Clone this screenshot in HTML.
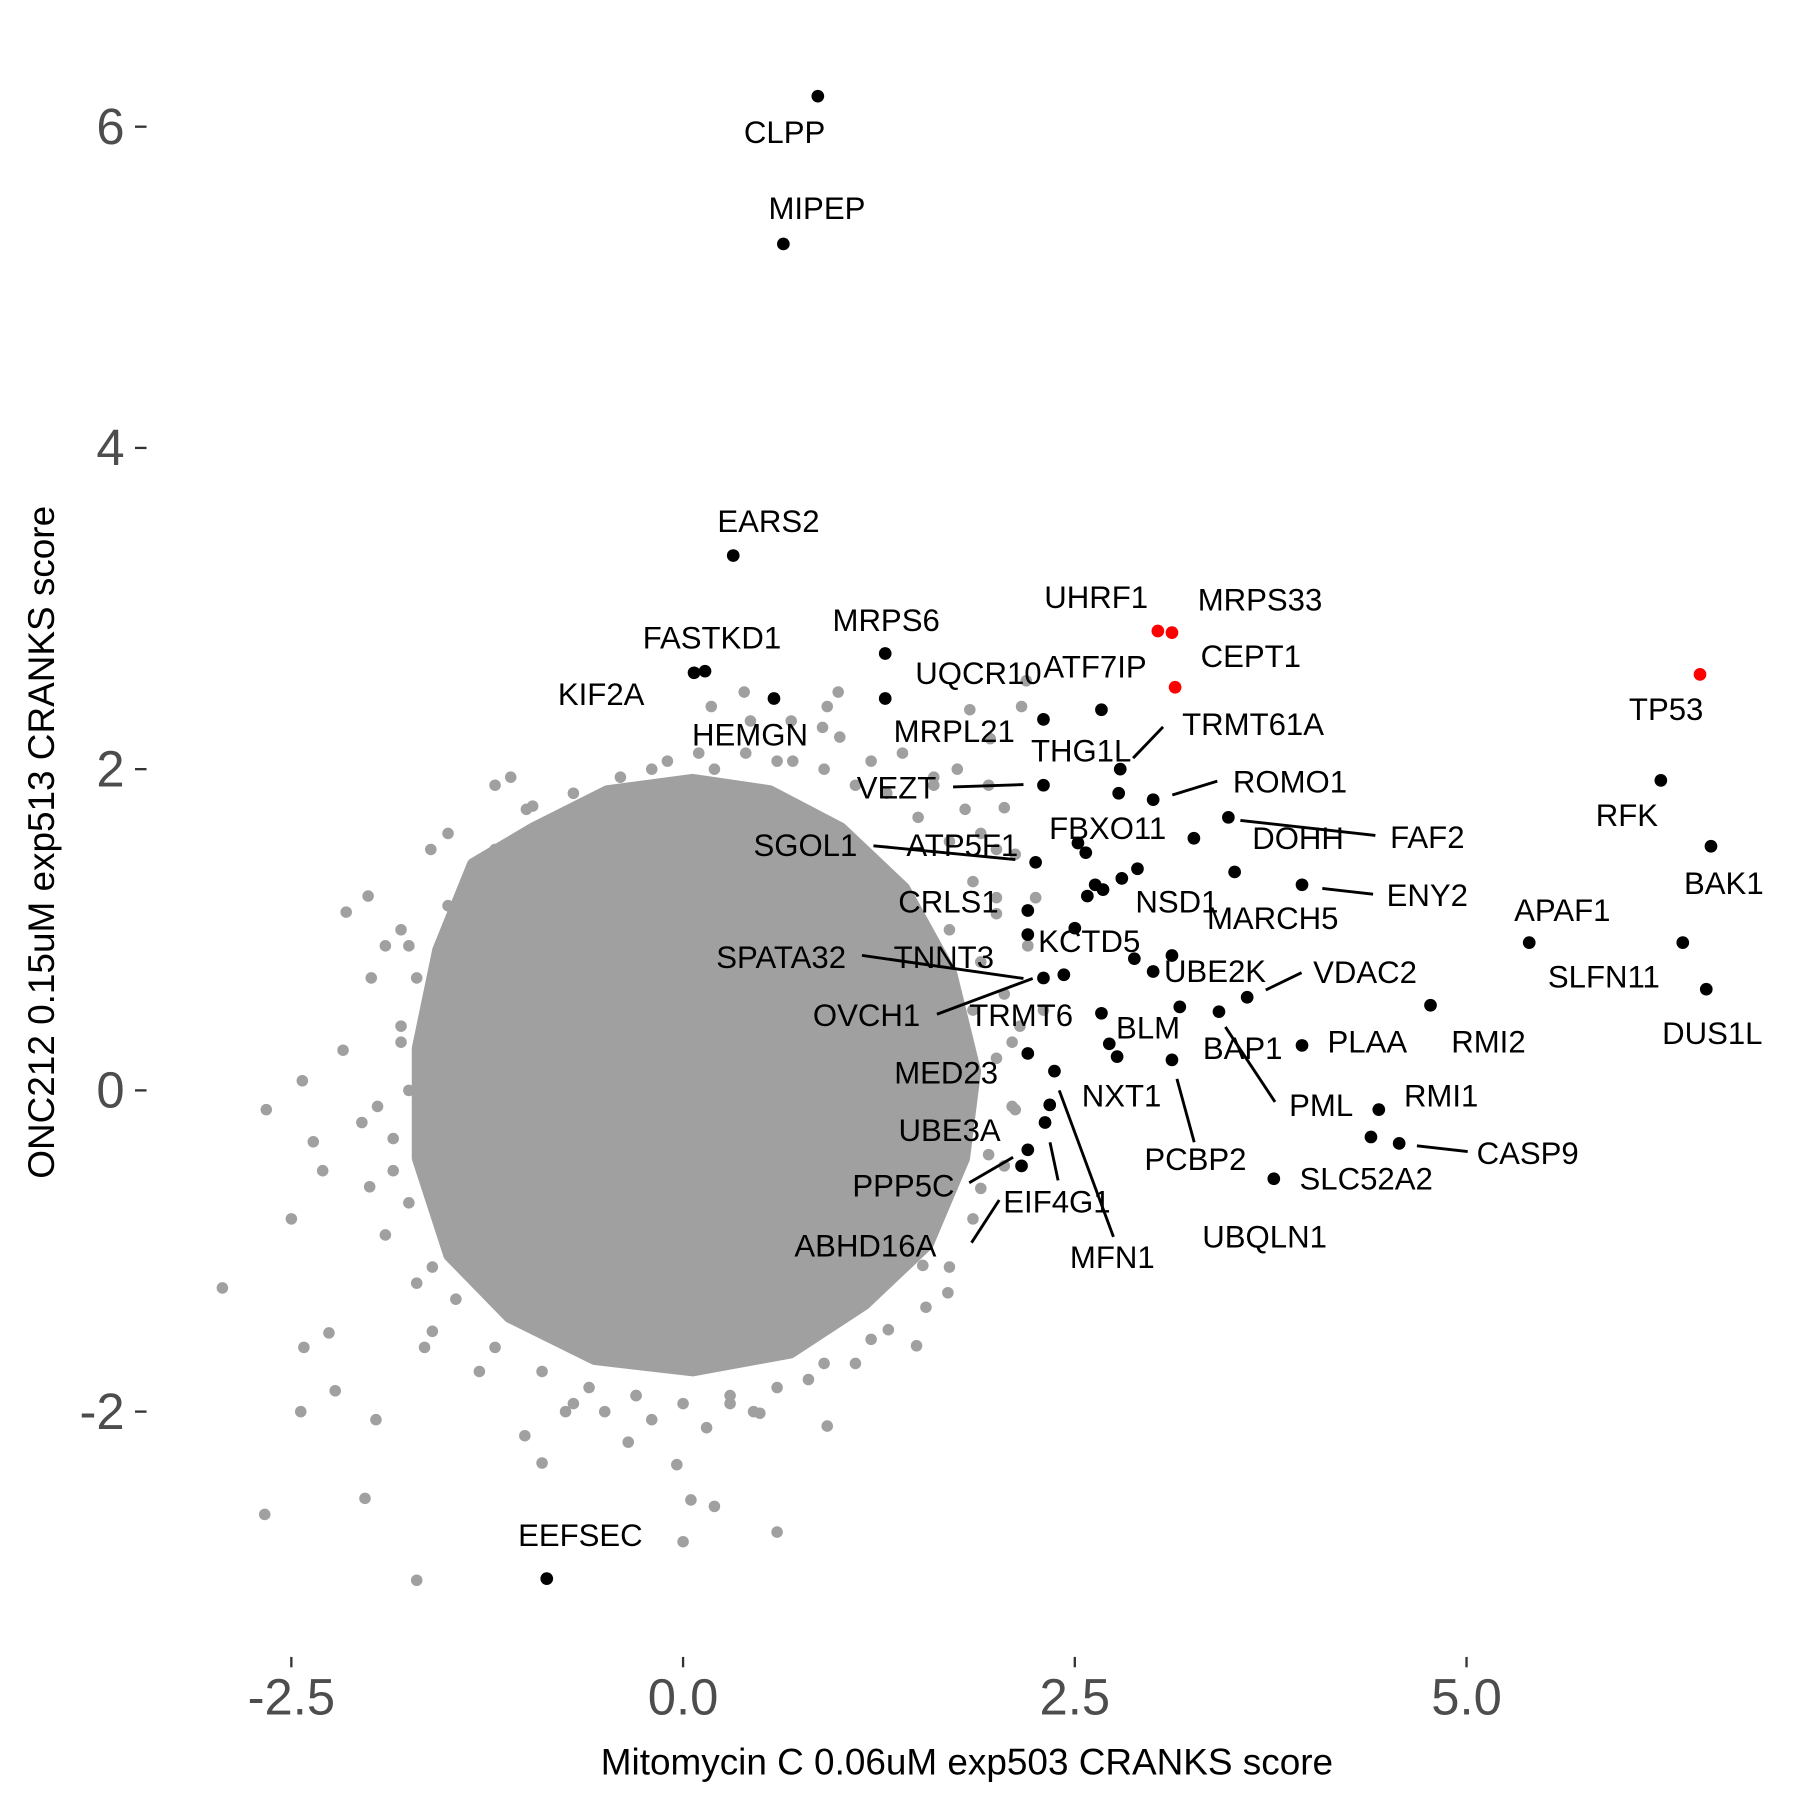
<!DOCTYPE html>
<html><head><meta charset="utf-8"><style>
html,body{margin:0;padding:0;background:#fff}
svg{display:block;font-family:"Liberation Sans",Arial,sans-serif}
</style></head><body>
<svg id="chart" width="1800" height="1800" viewBox="0 0 1560 1560" xmlns="http://www.w3.org/2000/svg">
<g id="core"></g>
<g id="lines"></g>
<g id="hits"></g>
<g id="labels"></g>
<g id="axes"></g>
<text x="838" y="1538" font-size="32" text-anchor="middle">Mitomycin C 0.06uM exp503 CRANKS score</text>
<text transform="translate(47,730) rotate(-90)" font-size="32" text-anchor="middle">ONC212 0.15uM exp513 CRANKS score</text>
</svg>
<script>
const xTicks=[-2.5,0,2.5,5];
const xTickLabels=["-2.5","0.0","2.5","5.0"];
const yTicks=[-2,0,2,4,6];
const yTickLabels=["-2","0","2","4","6"];
// dense core outline (data coords)
const coreX=[-1.55,-1.33,-0.95,-0.48,0.06,0.55,1.0,1.4,1.7,1.85,1.78,1.55,1.15,0.68,0.06,-0.56,-1.1,-1.48,-1.68,-1.68];
const coreY=[0.87,1.4,1.62,1.85,1.92,1.85,1.62,1.25,0.72,0.12,-0.42,-0.95,-1.32,-1.62,-1.73,-1.66,-1.4,-1.02,-0.42,0.26];
// scattered background genes
const bgX=[-2.94,-2.67,-2.44,-2.66,-2.43,-2.42,-2.36,-2.26,-2.22,-2.15,-2.01,-2.03,-1.99,-1.7,-1.96,-1.61,-2.17,0.18,0.39,0.99,0.92,0.69,0.89,0.43,1.83,2.16,2.19,-0.96,-0.94,-1.35,-1.33,1.49,1.69,1.31,1.53,1.9,2.05,2.12,1.96,2.12,2.05,0,0.05,0.2,0.6,0.92,-0.35,-0.04,-0.9,-1.01,0.49,-1.8,-1.85,-1.7,-1.75,-1.9,-1.65,1.9,2.0,1.85,1.8,2.2,2.1,1.95,1.75,1.6,1.4,1.2,-1.2,-1.5,-1.3,-0.7,-0.3,0.3,0.8,1.1,-0.5,0.1,1.7,1.5,2.25,1.0,0.6,-0.2,-1.1,-1.6,-1.8,-2.05,-2.3,-2.5,
1.85,2.0,1.9,2.05,2.0,2.1,1.95,1.85,1.7,1.55,2.15,2.2,2.0,1.7,1.5,1.3,1.1,0.9,2.25,2.3,1.8,1.6,0.7,0.4,0.2,-0.1,-0.4,-0.7,-1.0,-1.2,-1.5,-1.7,-1.8,-1.75,-1.85,-1.75,-1.6,-1.45,-1.9,-1.95,-2.0,-1.2,-0.9,-0.6,-0.3,0.0,0.3,0.6,0.9,1.2,-0.75,0.45,0.15,-0.2];
const bgY=[-1.23,-2.64,-2.0,-0.12,0.06,-1.6,-0.32,-1.51,-1.87,1.11,1.21,-2.54,0.7,-3.05,-2.05,1.5,0.25,2.39,2.48,2.48,2.39,2.3,2.26,2.3,2.37,2.39,2.55,1.77,1.63,1.33,1.19,-1.59,-1.26,-1.49,-1.09,-0.61,-0.47,-0.12,2.19,1.47,1.76,-2.81,-2.55,-2.59,-2.75,-2.09,-2.19,-2.33,-2.32,-2.15,-2.01,0.3,-0.5,-1.2,0.9,-0.9,-1.6,1.6,1.2,0.5,-0.3,0.9,0.3,1.9,2.0,1.9,2.1,2.05,1.9,1.6,-1.75,-1.95,-1.9,-1.95,-1.8,-1.7,-2.0,2.1,1.0,-0.9,1.2,2.2,2.05,2.0,1.95,-1.5,1.0,-0.2,-0.5,-0.8,
1.3,1.1,0.8,0.6,0.2,-0.1,-0.4,-0.8,-1.1,-1.35,0.4,0.9,1.5,1.55,1.7,1.85,1.9,2.0,1.2,0.5,1.75,1.95,2.05,2.1,2.0,2.05,1.95,1.85,1.75,1.5,1.15,0.7,0.4,0.0,-0.3,-0.7,-1.1,-1.3,0.9,-0.1,-0.6,-1.6,-1.75,-1.85,-1.9,-1.95,-1.9,-1.85,-1.7,-1.55,-2.0,-2.0,-2.1,-2.05];
// highlighted genes
const hitX=[0.86,0.64,0.32,0.07,0.14,0.58,1.29,1.29,2.3,2.67,2.79,2.78,2.3,3.0,3.48,3.26,3.52,3.95,2.25,2.52,2.57,2.63,2.58,2.68,2.9,2.8,2.2,2.2,2.5,2.3,2.43,2.88,3.0,3.12,3.6,2.67,2.72,2.77,3.17,3.42,3.95,4.77,2.2,2.37,3.12,4.44,4.39,4.57,2.34,2.31,2.2,2.16,3.77,-0.87,6.24,6.56,5.40,6.38,6.53];
const hitY=[6.19,5.27,3.33,2.6,2.61,2.44,2.72,2.44,2.31,2.37,2.0,1.85,1.9,1.81,1.7,1.57,1.36,1.28,1.42,1.54,1.48,1.28,1.21,1.25,1.38,1.32,1.12,0.97,1.01,0.7,0.72,0.82,0.74,0.84,0.58,0.48,0.29,0.21,0.52,0.49,0.28,0.53,0.23,0.12,0.19,-0.12,-0.29,-0.33,-0.09,-0.2,-0.37,-0.47,-0.55,-3.04,1.93,1.52,0.92,0.92,0.63];
const redX=[3.03,3.12,3.14,6.49];
const redY=[2.86,2.85,2.51,2.59];
const labelText=["CLPP","MIPEP","EARS2","FASTKD1","KIF2A","HEMGN","MRPS6","UQCR10","MRPL21","ATF7IP","UHRF1","MRPS33","CEPT1","TP53","THG1L","TRMT61A","VEZT","ROMO1","FAF2","FBXO11","DOHH","RFK","BAK1","ENY2","MARCH5","NSD1","SGOL1","ATP5F1","CRLS1","KCTD5","APAF1","SLFN11","DUS1L","SPATA32","TNNT3","OVCH1","UBE2K","VDAC2","TRMT6","BLM","BAP1","PLAA","RMI2","MED23","NXT1","PCBP2","PML","RMI1","CASP9","UBE3A","MFN1","PPP5C","EIF4G1","ABHD16A","SLC52A2","UBQLN1","EEFSEC"];
const labelPos=[[680,124],[708,190],[666,461],[617,562],[521,611],[650,646],[768,547],[848,593],[827,643],[949,587],[950,527],[1092,529],[1084,578],[1444,624],[937,660],[1086,637],[777,692],[1118,687],[1237,735],[960,727],[1125,736],[1410,716],[1494,775],[1237,785],[1103,805],[1020,791],[698,742],[834,742],[822,791],[944,825],[1354,798],[1390,856],[1484,905],[677,839],[818,839],[751,889],[1053,851],[1183,852],[885,889],[995,900],[1077,918],[1185,912],[1290,912],[820,939],[972,959],[1036,1014],[1145,967],[1249,959],[1324,1009],[823,989],[964,1099],[783,1037],[916,1051],[750,1089],[1184,1031],[1096,1081],[503,1340]];
const segs=[[982,657,1008,630],[826,682,887,680],[1016,689,1055,677],[1075,711,1192,724],[1146,770,1190,775],[757,733,880,745],[747,828,887,848],[812,879,895,848],[1097,858,1128,843],[1062,890,1105,955],[1020,935,1035,990],[1228,993,1272,998],[918,945,965,1072],[840,1025,878,1003],[910,990,917,1023],[842,1077,866,1040]];

const NS="http://www.w3.org/2000/svg";
const X=v=>592+v*135.8, Y=v=>945-v*139.2;
function mk(t,p,parent){const e=document.createElementNS(NS,t);for(const k in p)e.setAttribute(k,p[k]);parent.appendChild(e);return e;}
const core=document.getElementById('core');
const poly=mk('polygon',{points:coreX.map((x,i)=>X(x)+','+Y(coreY[i])).join(' '),fill:'#a0a0a0',stroke:'#a0a0a0','stroke-width':14,'stroke-linejoin':'round'},core);


bgX.forEach((x,i)=>{const c=mk('circle',{cx:X(x),cy:Y(bgY[i]),r:5,fill:'#a0a0a0'},core);

});
const lines=document.getElementById('lines');
segs.forEach(s=>{const l=mk('line',{x1:s[0],y1:s[1],x2:s[2],y2:s[3],stroke:'#000','stroke-width':2.5},lines);

});
const hits=document.getElementById('hits');
hitX.forEach((x,i)=>{const c=mk('circle',{cx:X(x),cy:Y(hitY[i]),r:5.5,fill:'#000'},hits);

});
redX.forEach((x,i)=>{const c=mk('circle',{cx:X(x),cy:Y(redY[i]),r:5.5,fill:'#ff0000'},hits);

});
const labels=document.getElementById('labels');
labelText.forEach((t,i)=>{const e=mk('text',{x:labelPos[i][0],y:labelPos[i][1],'font-size':27,'text-anchor':'middle',fill:'#000'},labels);e.textContent=t;

});
const axes=document.getElementById('axes');
xTicks.forEach((v,i)=>{mk('line',{x1:X(v),x2:X(v),y1:1436,y2:1445,stroke:'#333','stroke-width':2},axes);
const t=mk('text',{x:X(v),y:1486,'font-size':44,'text-anchor':'middle',fill:'#4d4d4d'},axes);t.textContent=xTickLabels[i];

});
yTicks.forEach((v,i)=>{mk('line',{x1:117,x2:127,y1:Y(v),y2:Y(v),stroke:'#333','stroke-width':2},axes);
const t=mk('text',{x:108,y:Y(v)+15,'font-size':44,'text-anchor':'end',fill:'#4d4d4d'},axes);t.textContent=yTickLabels[i];

});
</script>
</body></html>
